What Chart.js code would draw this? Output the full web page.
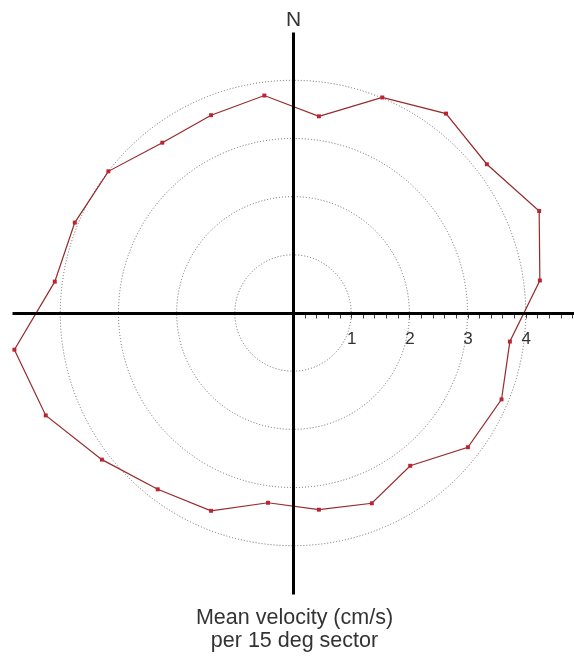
<!DOCTYPE html>
<html>
<head>
<meta charset="utf-8">
<title>Mean velocity rose</title>
<script src="https://cdn.jsdelivr.net/npm/chart.js@4/dist/chart.umd.min.js"></script>
<style>
  html, body { margin: 0; padding: 0; background: #ffffff; }
  #wrap { position: relative; width: 574px; height: 658px; }
</style>
</head>
<body>
<div id="wrap"><canvas id="rose"></canvas></div>
<script>
// 15 degree direction sectors, clockwise from north
const sectors = [
  '0-15', '15-30', '30-45', '45-60', '60-75', '75-90',
  '90-105', '105-120', '120-135', '135-150', '150-165', '165-180',
  '180-195', '195-210', '210-225', '225-240', '240-255', '255-270',
  '270-285', '285-300', '300-315', '315-330', '330-345', '345-360'
];
// mean current speed in each sector (cm/s)
const meanVelocity = [
  3.41, 4.01, 4.32, 4.20, 4.58, 4.28,
  3.76, 3.88, 3.79, 3.31, 3.54, 3.41,
  3.29, 3.68, 3.82, 4.14, 4.60, 4.83,
  4.13, 4.06, 4.00, 3.69, 3.68, 3.77
];
// labelled speed rings and the small tick spacing on the east axis
const ringTicks = [1, 2, 3, 4];
const minorStep = 0.2;
const northLabel = 'N';
const caption = ['Mean velocity (cm/s)', 'per 15 deg sector'];

const FONT = '"Liberation Sans", Arial, sans-serif';

// compass cross, east-axis ticks, ring labels and captions
const compassAxes = {
  id: 'compassAxes',
  afterDatasetsDraw(chart) {
    const s = chart.scales.r;
    const ctx = chart.ctx;
    const R = s.drawingArea;
    const cx = s.xCenter + 0.5;
    const cy = s.yCenter + 0.5;
    ctx.save();

    ctx.strokeStyle = '#000000';
    ctx.lineWidth = 3;
    ctx.beginPath();
    ctx.moveTo(cx - R, cy);
    ctx.lineTo(cx + R, cy);
    ctx.moveTo(cx, cy - R);
    ctx.lineTo(cx, cy + R);
    ctx.stroke();

    ctx.strokeStyle = '#404040';
    ctx.lineWidth = 1;
    ctx.beginPath();
    for (let i = 1; i * minorStep <= s.max + 1e-9; i++) {
      const x = Math.round(s.xCenter + s.getDistanceFromCenterForValue(i * minorStep)) + 0.5;
      ctx.moveTo(x, cy + 1.5);
      ctx.lineTo(x, cy + 5);
    }
    ctx.stroke();

    ctx.fillStyle = '#333333';
    ctx.textAlign = 'center';
    ctx.textBaseline = 'alphabetic';
    ctx.font = '17px ' + FONT;
    ringTicks.forEach(v => {
      const x = s.xCenter + s.getDistanceFromCenterForValue(v);
      ctx.fillText(String(v), x + 0.5, cy + 30);
    });

    ctx.font = '21px ' + FONT;
    ctx.fillText(northLabel, cx, cy - R - 7);

    ctx.font = '21.5px ' + FONT;
    caption.forEach((line, i) => {
      ctx.fillText(line, cx + 1, cy + R + 29 + i * 23);
    });

    ctx.restore();
  }
};

new Chart(document.getElementById('rose'), {
  type: 'radar',
  data: {
    labels: sectors,
    datasets: [{
      label: 'Mean velocity',
      data: meanVelocity,
      fill: false,
      borderColor: '#962a2a',
      borderWidth: 1.2,
      pointStyle: 'rect',
      pointRadius: 2.8,
      pointBorderWidth: 0,
      pointBackgroundColor: '#bb2532'
    }]
  },
  options: {
    responsive: true,
    maintainAspectRatio: false,
    animation: false,
    layout: { padding: { left: 12, right: 0, top: 32, bottom: 64 } },
    elements: { line: { tension: 0 } },
    plugins: {
      legend: { display: false },
      tooltip: { enabled: false }
    },
    events: [],
    scales: {
      r: {
        min: 0,
        max: Math.max(...meanVelocity),
        startAngle: 7.5,
        angleLines: { display: false },
        pointLabels: { display: false },
        ticks: { display: false, stepSize: 1 },
        grid: { circular: true, color: '#666666', lineWidth: 1 },
        border: { dash: [1, 2] },
        afterBuildTicks(scale) {
          scale.ticks = scale.ticks.filter(t => t.value === 0 || ringTicks.includes(t.value));
        }
      }
    }
  },
  plugins: [compassAxes]
});
</script>
</body>
</html>
